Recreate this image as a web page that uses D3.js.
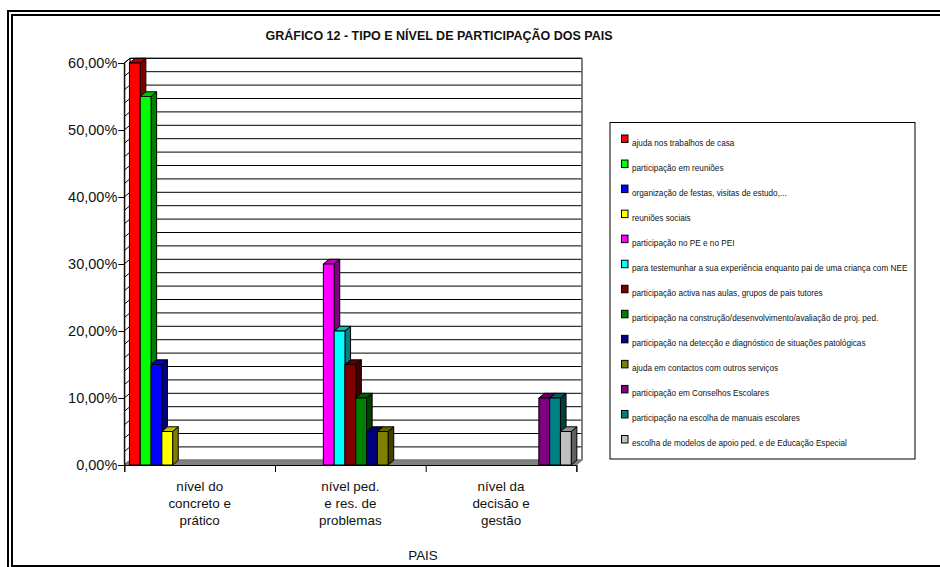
<!DOCTYPE html>
<html><head><meta charset="utf-8">
<script src="https://cdn.jsdelivr.net/npm/d3@7"></script>
<style>html,body{margin:0;padding:0;background:#fff}svg{display:block}text{font-family:"Liberation Sans",Arial,sans-serif;fill:#111}</style>
</head><body><svg id="c" width="940" height="567"></svg>
<script>
const title = "GRÁFICO 12 - TIPO E NÍVEL DE PARTICIPAÇÃO DOS PAIS";
const xTitle = "PAIS";
const categories = ["nível do concreto e prático","nível ped. e res. de problemas","nível da decisão e gestão"];
const categoryLines = [["nível do","concreto e","prático"],["nível ped.","e res. de","problemas"],["nível da","decisão e","gestão"]];
const seriesNames = ["ajuda nos trabalhos de casa","participação em reuniões","organização de festas, visitas de estudo,...","reuniões sociais","participação no PE e no PEI","para testemunhar a sua experiência enquanto pai de uma criança com NEE","participação activa nas aulas, grupos de pais tutores","participação na construção/desenvolvimento/avaliação de proj. ped.","participação na detecção e diagnóstico de situações patológicas","ajuda em contactos com outros serviços","participação em Conselhos Escolares","participação na escolha de manuais escolares","escolha de modelos de apoio ped. e de Educação Especial"];
const seriesColors = ["#ff0000","#00ff00","#0000ff","#ffff00","#ff00ff","#00ffff","#800000","#008000","#000080","#808000","#800080","#008080","#c0c0c0"];
const seriesCategory = [0,0,0,0,1,1,1,1,1,1,2,2,2];
const seriesValues = [60,55,15,5,30,20,15,10,5,5,10,10,5];
const yTicks = [0,10,20,30,40,50,60];
const yGrid = [0,2,4,6,8,10,12,14,16,18,20,22,24,26,28,30,32,34,36,38,40,42,44,46,48,50,52,54,56,58,60];

const svg = d3.select("#c");
const dx = 5.6, dy = 4.7;
const x0 = d3.scaleBand().domain(d3.range(categories.length)).range([124.3,576.4]);
const x1 = d3.scaleBand().domain(d3.range(seriesNames.length)).range([0,x0.bandwidth()]).paddingOuter(0.477).paddingInner(0);
const y = d3.scaleLinear().domain([0,60]).range([465,63]);
const left = 124.3, right = 576.4;

// frame
const frame = svg.append("g").attr("fill","none").attr("stroke","#000").attr("stroke-width",2);
frame.append("path").attr("d","M8,567V11H940");
frame.append("path").attr("d","M12,567V15H940");
frame.append("path").attr("d","M12,566H940");

// title
svg.append("text").attr("x",439).attr("y",40).attr("text-anchor","middle").attr("font-size",12.5).attr("font-weight","bold").text(title);

// walls and floor
const wall = svg.append("g");
wall.append("path").attr("d",`M${left+dx},${y(60)-dy}H${right+dx}V${y(0)-dy}H${left+dx}Z`).attr("fill","#fff").attr("stroke","#000");
wall.append("path").attr("d",`M${left},${y(60)}L${left+dx},${y(60)-dy}V${y(0)-dy}L${left},${y(0)}Z`).attr("fill","#fff").attr("stroke","#000");
wall.selectAll(".g").data(yGrid).join("path").attr("d",d=>`M${left},${y(d)}L${left+dx},${y(d)-dy}H${right+dx}`).attr("fill","none").attr("stroke","#000").attr("stroke-width",1);
wall.append("path").attr("d",`M${left},${y(0)}L${left+dx},${y(0)-dy}H${right+dx}L${right},${y(0)}Z`).attr("fill","#808080").attr("stroke","#808080");
wall.append("path").attr("d",`M${right+dx},${y(60)-dy}V${y(0)-dy}`).attr("stroke","#808080").attr("stroke-width",1.5);

// axes
const yAxis = d3.axisLeft(y).tickValues(yTicks).tickSize(6).tickPadding(1).tickFormat(d=>d3.format(".2f")(d).replace(".",",")+"%");
const ya = svg.append("g").attr("transform",`translate(${left},0)`).call(yAxis);
ya.selectAll("text").attr("font-size",14.5).attr("fill","#222");
ya.select(".domain").attr("stroke","#000");

const xAxis = d3.axisBottom(d3.scaleLinear().domain([0,3]).range([left,right])).tickValues([0,1,2,3]).tickSize(7).tickFormat("");
const xa = svg.append("g").attr("transform",`translate(0,${y(0)})`).call(xAxis);
xa.select(".domain").attr("stroke","#000");

// category labels
svg.selectAll(".cat").data(categoryLines).join("text").attr("class","cat")
  .attr("text-anchor","middle").attr("font-size",13.4)
  .attr("transform",(d,i)=>`translate(${x0(i)+x0.bandwidth()/2},491)`)
  .selectAll("tspan").data(d=>d).join("tspan").attr("x",0).attr("dy",(d,i)=>i?17:0).text(d=>d);
svg.append("text").attr("x",423).attr("y",560).attr("text-anchor","middle").attr("font-size",13.4).text(xTitle);

// bars
const shade = (c,k)=>{const r=d3.rgb(c);return d3.rgb(r.r*k,r.g*k,r.b*k).formatHex();};
const bars = svg.append("g").attr("stroke","#000").attr("stroke-width",1).attr("stroke-linejoin","round");
const marks = seriesValues.map((v,i)=>({v,i,x:x0(seriesCategory[i])+x1(i),w:x1.bandwidth(),top:y(v),bot:y(0),c:seriesColors[i]}));
const b = bars.selectAll("g").data(marks).join("g");
b.append("path").attr("fill",d=>shade(d.c,0.5)).attr("d",d=>`M${d.x+d.w},${d.top}l${dx},${-dy}V${d.bot-dy}l${-dx},${dy}Z`);
b.append("path").attr("fill",d=>shade(d.c,0.75)).attr("d",d=>`M${d.x},${d.top}l${dx},${-dy}h${d.w}l${-dx},${dy}Z`);
b.append("rect").attr("fill",d=>d.c).attr("x",d=>d.x).attr("y",d=>d.top).attr("width",d=>d.w).attr("height",d=>d.bot-d.top);

// legend
const leg = svg.append("g");
leg.append("rect").attr("x",610).attr("y",122.5).attr("width",305).attr("height",336.5).attr("fill","#fff").attr("stroke","#000");
const ly = d3.scalePoint().domain(d3.range(seriesNames.length)).range([139.5,440]);
const li = leg.selectAll(".li").data(seriesNames).join("g").attr("class","li").attr("transform",(d,i)=>`translate(0,${ly(i)})`);
li.append("rect").attr("x",621.5).attr("y",-4.5).attr("width",6.5).attr("height",7.5).attr("fill",(d,i)=>seriesColors[i]).attr("stroke","#000");
li.append("text").attr("x",632).attr("y",6).attr("font-size",8.2).attr("fill","#222").text(d=>d);
</script></body></html>
